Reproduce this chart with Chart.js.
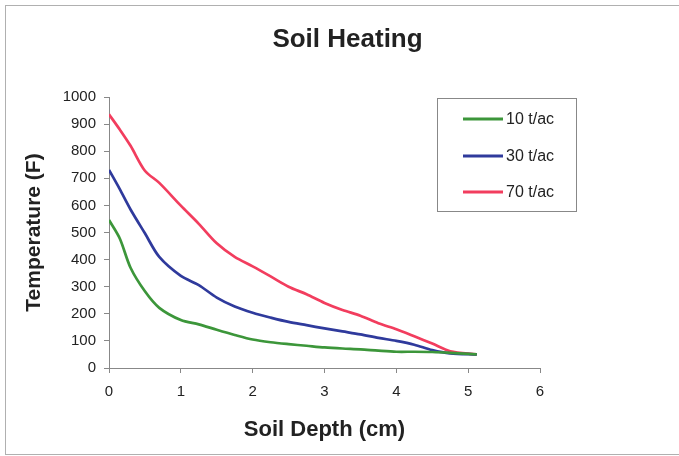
<!DOCTYPE html>
<html>
<head>
<meta charset="utf-8">
<script src="https://cdn.jsdelivr.net/npm/chart.js@4.4.0/dist/chart.umd.min.js"></script>
<style>
  html, body { margin: 0; padding: 0; background: #fff; }
  #wrap { position: relative; width: 679px; height: 456px; }
</style>
</head>
<body>
<div id="wrap"><canvas id="myChart" width="679" height="456"></canvas></div>
<script>
// depth (cm) shared by all series
var depth = [0, 0.15, 0.3, 0.5, 0.7, 1.0, 1.25, 1.5, 1.75, 2.0, 2.25, 2.5, 2.75, 3.0, 3.25, 3.5, 3.75, 4.0, 4.25, 4.5, 4.75, 5.12];
var labels = ['10 t/ac', '30 t/ac', '70 t/ac'];
var temp10 = [546, 478, 370, 283, 222, 177, 161, 141, 122, 105, 95, 88, 82, 76, 72, 69, 64, 60, 60, 59, 56, 50];
var temp30 = [731, 660, 585, 497, 410, 340, 306, 260, 227, 204, 186, 170, 158, 146, 135, 124, 111, 100, 86, 66, 54, 50];
var temp70 = [936, 880, 820, 728, 683, 599, 532, 460, 410, 375, 338, 300, 272, 240, 214, 193, 165, 143, 117, 90, 62, 50];
var colores = ['#3c963a', '#2f3a9c', '#f23d5e'];
var titulo = 'Soil Heating';

function puntos(arr) {
    var out = [];
    for (var i = 0; i < depth.length; i++) {
        out.push({x: depth[i], y: arr[i]});
    }
    return out;
}

var fuente = '"Liberation Sans", Arial, sans-serif';

// borde exterior, titulo centrado y leyenda con caja
var extras = {
    id: 'extras',
    afterDraw: function(chart) {
        var ctx = chart.ctx;
        ctx.save();
        ctx.strokeStyle = '#b0b0b0';
        ctx.lineWidth = 1;
        ctx.strokeRect(5.5, 5.5, 700, 449);

        ctx.fillStyle = '#222';
        ctx.font = 'bold 26px ' + fuente;
        ctx.textAlign = 'center';
        ctx.textBaseline = 'alphabetic';
        ctx.fillText(titulo, 347.5, 46.5);

        ctx.strokeStyle = '#888';
        ctx.strokeRect(437.5, 98.5, 139, 113);
        var ys = [119, 156, 192];
        ctx.font = '16px ' + fuente;
        ctx.textAlign = 'left';
        ctx.textBaseline = 'middle';
        chart.data.datasets.forEach(function(ds, i) {
            ctx.strokeStyle = ds.borderColor;
            ctx.lineWidth = 3;
            ctx.beginPath();
            ctx.moveTo(463, ys[i]);
            ctx.lineTo(503, ys[i]);
            ctx.stroke();
            ctx.fillText(ds.label, 506, ys[i] + 1);
        });
        ctx.restore();
    }
};

function chartCreate() {
    var series = [temp10, temp30, temp70];
    var datasets = [];
    for (var i = 0; i < series.length; i++) {
        datasets.push({
            label: labels[i],
            data: puntos(series[i]),
            borderColor: colores[i],
            backgroundColor: colores[i],
            borderWidth: 2.7,
            pointRadius: 0,
            tension: 0.3,
            fill: false
        });
    }
    const config = {
        type: 'line',
        data: { datasets: datasets },
        options: {
            responsive: false,
            animation: false,
            layout: { padding: { left: 0, right: 139, top: 97, bottom: 0 } },
            plugins: {
                legend: { display: false },
                tooltip: { enabled: false },
                title: { display: false }
            },
            scales: {
                x: {
                    type: 'linear',
                    min: 0, max: 6,
                    afterFit: function(s) { s.height = 88; },
                    ticks: { stepSize: 1, color: '#222', padding: 10, font: { family: fuente, size: 15 } },
                    grid: { drawOnChartArea: false, drawTicks: true, tickLength: 5, color: '#888' },
                    border: { color: '#888', width: 1 },
                    title: {
                        display: true, text: 'Soil Depth (cm)', color: '#222',
                        font: { family: fuente, size: 22, weight: 'bold' },
                        padding: { top: 0, bottom: 13 }
                    }
                },
                y: {
                    min: 0, max: 1000,
                    afterFit: function(s) { s.width = 109; },
                    ticks: {
                        stepSize: 100, color: '#222', padding: 8,
                        font: { family: fuente, size: 15 },
                        callback: function(v) { return String(v); }
                    },
                    grid: { drawOnChartArea: false, drawTicks: true, tickLength: 5, color: '#888' },
                    border: { color: '#888', width: 1 },
                    title: {
                        display: true, text: 'Temperature (F)', color: '#222',
                        font: { family: fuente, size: 21, weight: 'bold' },
                        padding: { top: 22, bottom: 0 }
                    }
                }
            }
        },
        plugins: [extras]
    };
    new Chart(document.getElementById('myChart'), config);
}

chartCreate();
</script>
</body>
</html>
